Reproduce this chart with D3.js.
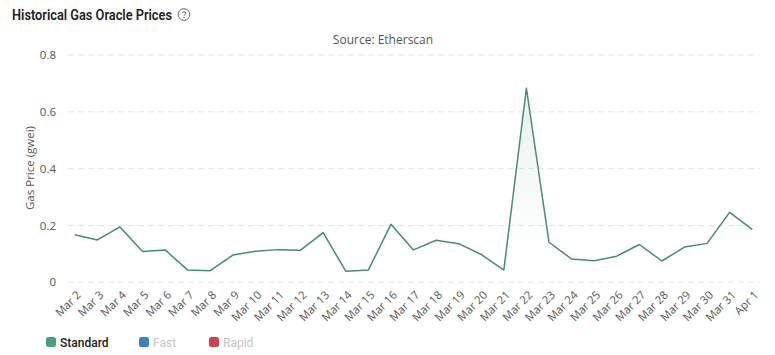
<!DOCTYPE html>
<html><head><meta charset="utf-8">
<script src="https://cdn.jsdelivr.net/npm/d3@7"></script>
<style>
body{margin:0;background:#fff;font-family:Roboto,"Open Sans",sans-serif;}
svg{display:block}
</style></head>
<body>
<svg id="c" width="775" height="355"></svg>
<script>
const categories = ["Mar 2","Mar 3","Mar 4","Mar 5","Mar 6","Mar 7","Mar 8","Mar 9","Mar 10","Mar 11","Mar 12","Mar 13","Mar 14","Mar 15","Mar 16","Mar 17","Mar 18","Mar 19","Mar 20","Mar 21","Mar 22","Mar 23","Mar 24","Mar 25","Mar 26","Mar 27","Mar 28","Mar 29","Mar 30","Mar 31","Apr 1"];
const standard = [0.167,0.149,0.195,0.108,0.114,0.043,0.041,0.096,0.109,0.115,0.113,0.175,0.039,0.043,0.204,0.114,0.148,0.136,0.098,0.043,0.683,0.141,0.082,0.076,0.092,0.133,0.075,0.124,0.137,0.246,0.186];
const yTicks = [0,0.2,0.4,0.6,0.8];
const legendItems = ["Standard","Fast","Rapid"];
const legendColors = ["#4a9e80","#3a80c3","#d0434c"];

const svg = d3.select("#c");
const x = d3.scalePoint().domain(categories).range([68,759]).padding(0.3);
const y = d3.scaleLinear().domain([0,0.8]).range([282.3,55]);

// title
svg.append("text").attr("x",12).attr("y",20).attr("font-size",15).attr("font-weight",600)
  .attr("fill","#222").attr("textLength",160).attr("lengthAdjust","spacingAndGlyphs")
  .text("Historical Gas Oracle Prices");
const ic = svg.append("g").attr("transform","translate(184,14.5)");
ic.append("circle").attr("r",5.8).attr("fill","none").attr("stroke","#666").attr("stroke-width",1);
ic.append("path").attr("d","M-1.9,-1.3 C-1.9,-3.2 1.9,-3.2 1.9,-1.3 C1.9,0.1 0,0 0,1.4")
  .attr("fill","none").attr("stroke","#666").attr("stroke-width",1);
ic.append("circle").attr("cy",3).attr("r",0.7).attr("fill","#666");

svg.append("text").attr("x",383).attr("y",44).attr("text-anchor","middle").attr("font-size",12)
  .attr("fill","#555").attr("font-family","'Open Sans',sans-serif").text("Source: Etherscan");

// grid
svg.append("g").selectAll("line").data(yTicks).join("line")
  .attr("x1",68).attr("x2",759).attr("y1",d=>y(d)).attr("y2",d=>y(d))
  .attr("stroke","#e6e6e6").attr("stroke-dasharray","6,4");

// y axis
const ya = svg.append("g").attr("transform","translate(68,0)")
  .call(d3.axisLeft(y).tickValues(yTicks).tickFormat(d=>d===0?"0":d3.format(".1f")(d)).tickSize(0).tickPadding(12));
ya.select(".domain").remove();
ya.selectAll("text").attr("font-size",11.5).attr("fill","#555").attr("font-family","'Open Sans',sans-serif");

svg.append("text").attr("transform","translate(34,168) rotate(-90)").attr("text-anchor","middle")
  .attr("font-size",11.5).attr("fill","#555").attr("font-family","'Open Sans',sans-serif").text("Gas Price (gwei)");

// x axis
const xa = svg.append("g").attr("transform","translate(0,291)")
  .call(d3.axisBottom(x).tickSize(0).tickPadding(0));
xa.select(".domain").remove();
xa.selectAll("text").attr("font-size",11.3).attr("fill","#555").attr("font-family","'Open Sans',sans-serif")
  .attr("text-anchor","end").attr("dy","0.7em").attr("dx","0.1em").attr("transform","rotate(-45)");

// gradient area
const defs = svg.append("defs");
const grad = defs.append("linearGradient").attr("id","g").attr("x1",0).attr("x2",0)
  .attr("gradientUnits","userSpaceOnUse").attr("y1",y(0.68)).attr("y2",y(0.12));
grad.append("stop").attr("offset",0).attr("stop-color","#4a9e80").attr("stop-opacity",0.14);
grad.append("stop").attr("offset",1).attr("stop-color","#4a9e80").attr("stop-opacity",0);

svg.append("path").datum(standard)
  .attr("d",d3.area().x((d,i)=>x(categories[i])).y0(y(0)).y1(d=>y(d)))
  .attr("fill","url(#g)");
svg.append("path").datum(standard)
  .attr("d",d3.line().x((d,i)=>x(categories[i])).y(d=>y(d)))
  .attr("fill","none").attr("stroke","#3f8f72").attr("stroke-width",1.5).attr("stroke-linejoin","round");

// legend
const lx = [46,139,209];
const lg = svg.append("g").selectAll("g").data(legendItems).join("g")
  .attr("transform",(d,i)=>`translate(${lx[i]},337)`);
lg.append("rect").attr("width",10).attr("height",10).attr("rx",2.5).attr("fill",(d,i)=>legendColors[i]);
lg.append("text").attr("x",14).attr("y",9.5).attr("font-size",12)
  .attr("font-weight",(d,i)=>i===0?500:400)
  .attr("fill",(d,i)=>i===0?"#222":"#c4c4c4").text(d=>d);
</script>
</body></html>
